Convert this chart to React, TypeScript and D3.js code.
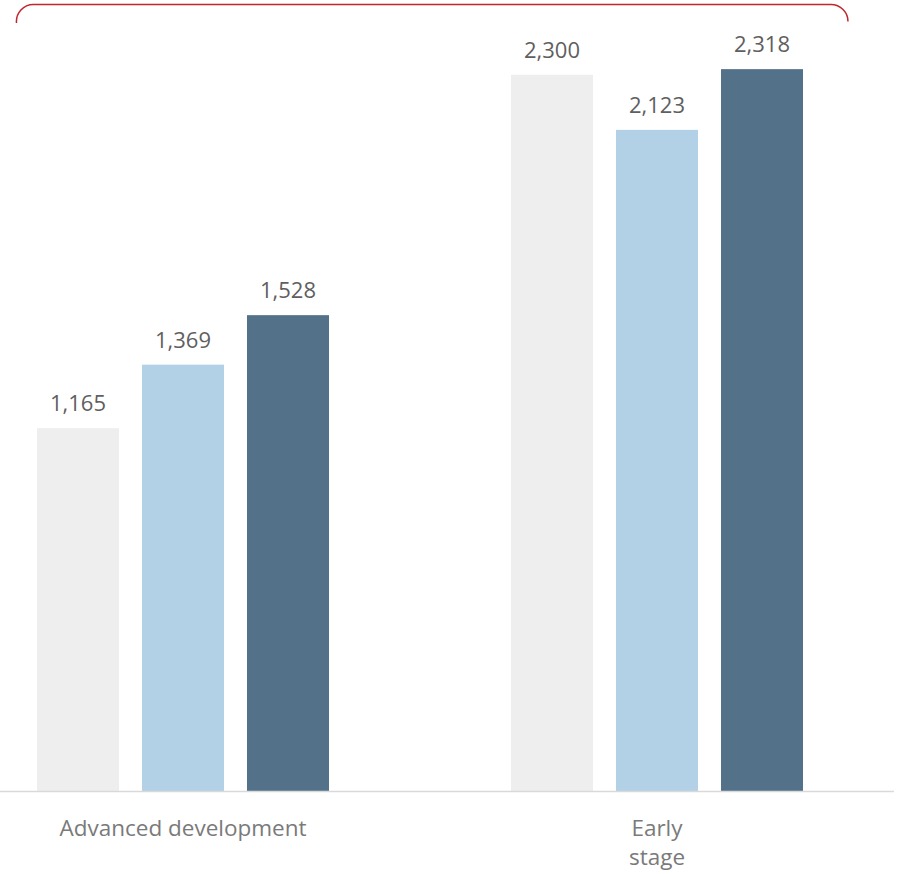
import React from "react";
import * as d3 from "d3";

const categories = ["Advanced development", "Early stage"];
const categoryLines = [["Advanced development"], ["Early", "stage"]];
const seriesNames = ["Series A", "Series B", "Series C"];
const seriesValues = [
  [1165, 2300],
  [1369, 2123],
  [1528, 2318],
];
const seriesColors = ["#eeeeee", "#b2d0e6", "#537289"];

const W = 902;
const H = 874;
const baseY = 791;

export default function App() {
  const y = d3.scaleLinear().domain([0, 2540]).range([baseY, 0]);
  const xGroup = d3.scaleBand<string>().domain(categories).range([-54, 894]).padding(0);
  const xInner = d3
    .scaleBand<string>()
    .domain(seriesNames)
    .range([91, 383])
    .paddingInner(23 / 105)
    .paddingOuter(0);
  const fmt = d3.format(",");
  const font = "'Segoe UI', 'Open Sans', 'Noto Sans', sans-serif";

  const bracket = "M16.5,23 A17,17 0 0 1 33.5,4.5 L831,4.5 A17,17 0 0 1 848,21.5";

  return (
    <svg
      width={W}
      height={H}
      style={{ position: "absolute", left: 0, top: 0, background: "#fff" }}
      fontFamily={font}
    >
      <path d={bracket} fill="none" stroke="#c0272d" strokeWidth={1.5} />
      {categories.map((c, ci) => (
        <g key={c} transform={`translate(${xGroup(c)},0)`}>
          {seriesNames.map((s, si) => {
            const v = seriesValues[si][ci];
            const x = xInner(s)!;
            const bw = xInner.bandwidth();
            return (
              <g key={s}>
                <rect x={x} y={y(v)} width={bw} height={baseY - y(v)} fill={seriesColors[si]} />
                <text
                  x={x + bw / 2}
                  y={y(v) - 17}
                  textAnchor="middle"
                  fontSize={22}
                  fill="#5f5f5f"
                >
                  {fmt(v)}
                </text>
              </g>
            );
          })}
          {categoryLines[ci].map((line, li) => (
            <text
              key={li}
              x={xGroup.bandwidth() / 2}
              y={836 + li * 29}
              textAnchor="middle"
              fontSize={22.5}
              fill="#7a7a7a"
            >
              {line}
            </text>
          ))}
        </g>
      ))}
      <line x1={0} x2={894} y1={baseY + 0.5} y2={baseY + 0.5} stroke="#d9d9d9" strokeWidth={1.5} />
    </svg>
  );
}
